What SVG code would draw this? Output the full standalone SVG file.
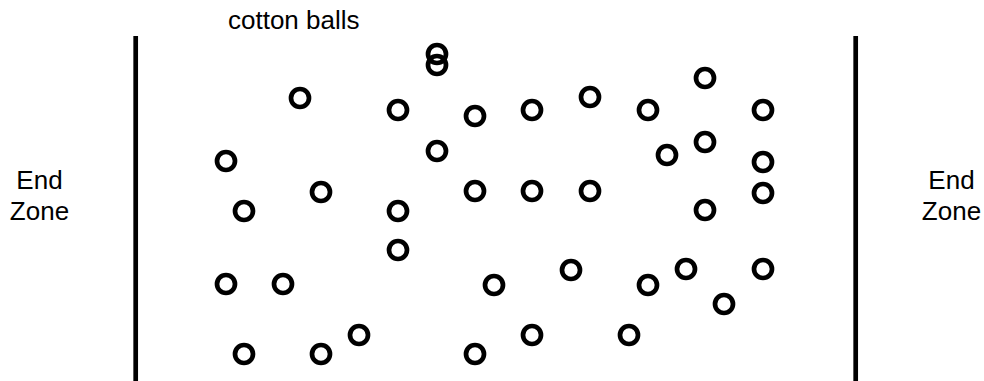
<svg xmlns="http://www.w3.org/2000/svg" width="984" height="381" viewBox="0 0 984 381">
<style>
.t{font-family:"Liberation Sans",Arial,sans-serif;font-size:26px;fill:#000}
.b{fill:none;stroke:#000;stroke-width:4.7}
.w{stroke:#000;stroke-width:4.7}
</style>
<rect width="984" height="381" fill="#fff"/>
<g id="left-zone"><text class="t" x="39.5" y="189" text-anchor="middle">End</text><text class="t" x="39.5" y="220" text-anchor="middle">Zone</text></g>
<g id="right-zone"><text class="t" x="951.5" y="189" text-anchor="middle">End</text><text class="t" x="951.5" y="220" text-anchor="middle">Zone</text></g>
<g id="label"><text class="t" x="228" y="29">cotton balls</text></g>
<g id="lines"><line class="w" x1="135.7" y1="36" x2="135.7" y2="381"/><line class="w" x1="855.7" y1="36" x2="855.7" y2="381"/></g>
<g id="balls">
<circle class="b" cx="300" cy="98" r="9"/>
<circle class="b" cx="226" cy="161" r="9"/>
<circle class="b" cx="321" cy="192" r="9"/>
<circle class="b" cx="244" cy="211" r="9"/>
<circle class="b" cx="226" cy="284" r="9"/>
<circle class="b" cx="283" cy="284" r="9"/>
<circle class="b" cx="244" cy="354" r="9"/>
<circle class="b" cx="321" cy="354" r="9"/>
<circle class="b" cx="359" cy="335" r="9"/>
<circle class="b" cx="437" cy="54" r="9"/>
<circle class="b" cx="437" cy="65" r="9"/>
<circle class="b" cx="398" cy="110" r="9"/>
<circle class="b" cx="475" cy="116" r="9"/>
<circle class="b" cx="532" cy="110" r="9"/>
<circle class="b" cx="590" cy="97" r="9"/>
<circle class="b" cx="648" cy="110" r="9"/>
<circle class="b" cx="437" cy="151" r="9"/>
<circle class="b" cx="475" cy="191" r="9"/>
<circle class="b" cx="532" cy="191" r="9"/>
<circle class="b" cx="590" cy="191" r="9"/>
<circle class="b" cx="398" cy="211" r="9"/>
<circle class="b" cx="398" cy="250" r="9"/>
<circle class="b" cx="494" cy="285" r="9"/>
<circle class="b" cx="571" cy="270" r="9"/>
<circle class="b" cx="648" cy="285" r="9"/>
<circle class="b" cx="532" cy="335" r="9"/>
<circle class="b" cx="629" cy="335" r="9"/>
<circle class="b" cx="475" cy="354" r="9"/>
<circle class="b" cx="705" cy="78" r="9"/>
<circle class="b" cx="763" cy="110" r="9"/>
<circle class="b" cx="705" cy="142" r="9"/>
<circle class="b" cx="667" cy="155" r="9"/>
<circle class="b" cx="763" cy="162" r="9"/>
<circle class="b" cx="763" cy="193" r="9"/>
<circle class="b" cx="705" cy="210" r="9"/>
<circle class="b" cx="686" cy="269" r="9"/>
<circle class="b" cx="763" cy="269" r="9"/>
<circle class="b" cx="724" cy="304" r="9"/>
</g>
</svg>
